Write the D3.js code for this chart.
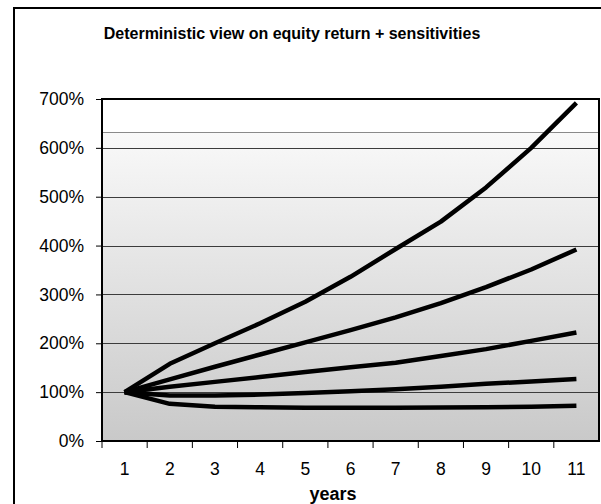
<!DOCTYPE html>
<html>
<head>
<meta charset="utf-8">
<script src="https://cdn.jsdelivr.net/npm/d3@7"></script>
<style>
  body { margin: 0; background: #fff; }
  svg { display: block; font-family: "Liberation Sans", Arial, sans-serif; }
  .grid line { stroke: #3c3c3c; stroke-width: 1; }
  .axis path, .axis line { stroke: #000; }
  .axis text { font-size: 17.5px; fill: #000; }
</style>
</head>
<body>
<div id="chart"></div>
<script>
  // years on the x axis
  let years = ["1", "2", "3", "4", "5", "6", "7", "8", "9", "10", "11"];
  // equity return scenarios, in %
  let seriesHigh = [100, 158, 200, 241, 285, 336, 393, 449, 519, 600, 692];
  let seriesUp   = [100, 126, 152, 177, 202, 227, 253, 282, 315, 351, 392];
  let seriesBase = [100, 111, 121, 131, 141, 151, 160, 174, 188, 205, 222];
  let seriesDown = [100, 93, 93, 95, 98, 102, 106, 111, 117, 122, 127];
  let seriesLow  = [100, 76, 70, 69, 68, 68, 68, 68.5, 69, 70, 72];
  let yTicks = [0, 100, 200, 300, 400, 500, 600, 700];

  let allSeries = [seriesHigh, seriesUp, seriesBase, seriesDown, seriesLow];

  let W = 601, H = 504;
  // set the dimensions and margins of the plot area
  let margin = {top: 99, right: 2, bottom: 63, left: 102},
      width = W - margin.left - margin.right,
      height = H - margin.top - margin.bottom;

  let svg = d3.select("#chart").append("svg")
      .attr("width", W)
      .attr("height", H);

  // outer chart frame
  svg.append("rect")
    .attr("x", 14).attr("y", 8)
    .attr("width", W + 20).attr("height", H + 20)
    .attr("fill", "none")
    .attr("stroke", "#000")
    .attr("stroke-width", 2);

  svg.append("text")
    .attr("x", 292)
    .attr("y", 39)
    .attr("text-anchor", "middle")
    .style("font-size", "16px")
    .style("font-weight", "bold")
    .text("Deterministic view on equity return + sensitivities");

  let defs = svg.append("defs");
  let grad = defs.append("linearGradient")
    .attr("id", "plotBg")
    .attr("x1", 0).attr("y1", 0).attr("x2", 0).attr("y2", 1);
  grad.append("stop").attr("offset", "0").attr("stop-color", "#ffffff");
  grad.append("stop").attr("offset", "0.097").attr("stop-color", "#ffffff");
  grad.append("stop").attr("offset", "0.097").attr("stop-color", "#f9f9f9");
  grad.append("stop").attr("offset", "1").attr("stop-color", "#c9c9c9");

  let g = svg.append("g")
      .attr("transform", "translate(" + margin.left + "," + margin.top + ")");

  // set the ranges
  let x = d3.scaleBand().domain(years).range([0, width]);
  let y = d3.scaleLinear().domain([0, 700]).range([height, 0]);

  g.append("rect")
    .attr("width", width)
    .attr("height", height)
    .attr("fill", "url(#plotBg)");

  // faint band edge of the gradient
  g.append("line")
    .attr("x1", 0).attr("x2", width)
    .attr("y1", Math.round(y(632)) + 0.5).attr("y2", Math.round(y(632)) + 0.5)
    .attr("stroke", "#8a8a8a");

  // horizontal grid
  g.append("g")
    .attr("class", "grid")
    .selectAll("line")
    .data(yTicks.slice(1, -1))
    .enter().append("line")
      .attr("x1", 0).attr("x2", width)
      .attr("y1", d => Math.round(y(d)) + 0.5)
      .attr("y2", d => Math.round(y(d)) + 0.5);

  // the lines
  let line = d3.line()
    .x((d, i) => x(years[i]) + x.bandwidth() / 2)
    .y(d => y(d));

  g.selectAll(".series")
    .data(allSeries)
    .enter().append("path")
      .attr("class", "series")
      .attr("d", line)
      .attr("fill", "none")
      .attr("stroke", "#000")
      .attr("stroke-width", 4.5)
      .attr("stroke-linejoin", "round");

  // plot frame
  g.append("rect")
    .attr("width", width)
    .attr("height", height)
    .attr("fill", "none")
    .attr("stroke", "#000")
    .attr("stroke-width", 2);

  // Add the Y Axis
  let yAxis = g.append("g")
    .attr("class", "axis")
    .call(d3.axisLeft(y).tickValues(yTicks).tickSize(6).tickPadding(12)
      .tickFormat(d => d + "%"));
  yAxis.select(".domain").remove();

  // Add the X Axis, ticks between categories
  let xAxis = g.append("g")
    .attr("class", "axis")
    .attr("transform", "translate(0," + height + ")")
    .call(d3.axisBottom(x).tickSize(0).tickPadding(22));
  xAxis.select(".domain").remove();
  xAxis.selectAll(".sep")
    .data(years)
    .enter().append("line")
      .attr("class", "sep")
      .attr("x1", d => x(d)).attr("x2", d => x(d))
      .attr("y1", 0).attr("y2", 7)
      .attr("stroke", "#000");

  svg.append("text")
    .attr("x", 333)
    .attr("y", 500)
    .attr("text-anchor", "middle")
    .style("font-size", "18px")
    .style("font-weight", "bold")
    .text("years");
</script>
</body>
</html>
